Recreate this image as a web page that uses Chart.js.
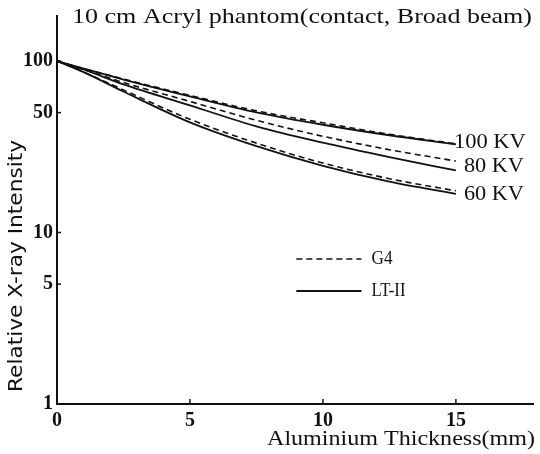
<!DOCTYPE html>
<html>
<head>
<meta charset="utf-8">
<script src="https://cdn.jsdelivr.net/npm/chart.js@4"></script>
<style>
    html, body { margin: 0; padding: 0; background: #fff; }
    #wrap { width: 540px; height: 454px; }
</style>
</head>
<body>
<div id="wrap"><canvas id="chart" width="540" height="454"></canvas></div>
<script>
// aluminium thickness (mm) where the curves were read
const thickness = [0, 1, 2.5, 5, 7.5, 10, 12.5, 15];

// relative X-ray intensity (%)
const g4_100kv = [100, 90.4, 78.5, 63.0, 51.2, 43.6, 37.4, 32.9];
const lt2_100kv = [100, 90.4, 78.0, 62.2, 50.2, 42.5, 36.9, 32.7];
const g4_80kv = [100, 89.2, 74.9, 58.1, 45.1, 36.4, 30.4, 26.1];
const lt2_80kv = [100, 89.2, 73.0, 55.1, 41.6, 33.4, 27.5, 23.0];
const g4_60kv = [100, 86.2, 67.8, 45.7, 33.2, 25.4, 20.6, 17.5];
const lt2_60kv = [100, 86.2, 66.4, 43.9, 31.9, 24.5, 19.8, 16.8];

const xTicks = [0, 5, 10, 15];
const yTicks = [1, 5, 10, 50, 100];

const curveLabels = ["100 KV", "80 KV", "60 KV"];
const legendLabels = ["G4", "LT-II"];

const serif = "'Liberation Serif', 'DejaVu Serif', serif";
const ink = "#111";

function toPoints(values) {
    return thickness.map((t, i) => ({ x: t, y: values[i] }));
}

function series(values, dashed) {
    return {
        data: toPoints(values),
        borderColor: ink,
        borderWidth: dashed ? 1.6 : 1.8,
        borderDash: dashed ? [6, 4] : [],
        pointRadius: 0,
        cubicInterpolationMode: "monotone",
        fill: false
    };
}

// draw text stretched to a given width (old typeset figures use wide spacing)
function fitText(ctx, text, x, y, font, width, align) {
    ctx.save();
    ctx.font = font;
    ctx.fillStyle = ink;
    ctx.textBaseline = "middle";
    let w = ctx.measureText(text).width;
    let sx = width ? width / w : 1;
    ctx.translate(x, y);
    ctx.scale(sx, 1);
    ctx.textAlign = align || "left";
    ctx.fillText(text, 0, 0);
    ctx.restore();
}

const decorations = {
    id: "decorations",
    afterDraw(chart) {
        let ctx = chart.ctx;
        let xs = chart.scales.x;
        let ys = chart.scales.y;
        let area = chart.chartArea;

        // small inward tick marks
        ctx.save();
        ctx.strokeStyle = ink;
        ctx.lineWidth = 1.5;
        yTicks.slice(1).forEach(v => {
            let py = ys.getPixelForValue(v);
            ctx.beginPath();
            ctx.moveTo(area.left, py);
            ctx.lineTo(area.left + 4, py);
            ctx.stroke();
        });
        xTicks.slice(1).forEach(v => {
            let px = xs.getPixelForValue(v);
            ctx.beginPath();
            ctx.moveTo(px, area.bottom);
            ctx.lineTo(px, area.bottom - 5);
            ctx.stroke();
        });
        ctx.restore();

        // titles
        fitText(ctx, "10 cm Acryl phantom(contact, Broad beam)", 72, 17, "21px " + serif, 460, "left");
        fitText(ctx, "Aluminium Thickness(mm)", area.right + 2, 440, "20px " + serif, 268, "right");

        ctx.save();
        ctx.translate(17, 266);
        ctx.rotate(-Math.PI / 2);
        fitText(ctx, "Relative X-ray Intensity", 0, 0, "19px 'DejaVu Sans', sans-serif", 252, "center");
        ctx.restore();

        // curve end labels
        let last = thickness.length - 1;
        let ends = [
            [g4_100kv[last], lt2_100kv[last]],
            [g4_80kv[last], lt2_80kv[last]],
            [g4_60kv[last], lt2_60kv[last]]
        ];
        let xEnd = xs.getPixelForValue(thickness[last]);
        let offsets = [[-2, -2, 72], [8, 1, 60], [8, 2, 60]];
        curveLabels.forEach((label, i) => {
            let py = (ys.getPixelForValue(ends[i][0]) + ys.getPixelForValue(ends[i][1])) / 2;
            fitText(ctx, label, xEnd + offsets[i][0], py + offsets[i][1], "21px " + serif, offsets[i][2], "left");
        });

        // legend
        let lx = xs.getPixelForValue(9.0);
        let lx2 = xs.getPixelForValue(11.45);
        let legendY = [259, 291];
        ctx.save();
        ctx.strokeStyle = ink;
        legendY.forEach((py, i) => {
            ctx.setLineDash(i === 0 ? [6, 4] : []);
            ctx.lineWidth = i === 0 ? 1.6 : 1.8;
            ctx.beginPath();
            ctx.moveTo(lx, py);
            ctx.lineTo(lx2, py);
            ctx.stroke();
        });
        ctx.restore();
        fitText(ctx, legendLabels[0], lx2 + 10, legendY[0], "19px " + serif, 21, "left");
        fitText(ctx, legendLabels[1], lx2 + 10, legendY[1], "19px " + serif, 34, "left");
    }
};

let tickFont = { family: serif, size: 20, weight: "bold" };

let chart = new Chart(document.getElementById("chart").getContext("2d"), {
    type: "line",
    data: {
        datasets: [
            series(g4_100kv, true),
            series(lt2_100kv, false),
            series(g4_80kv, true),
            series(lt2_80kv, false),
            series(g4_60kv, true),
            series(lt2_60kv, false)
        ]
    },
    options: {
        responsive: false,
        animation: false,
        layout: { padding: { left: 0, right: 7, top: 14, bottom: 0 } },
        plugins: {
            legend: { display: false },
            tooltip: { enabled: false }
        },
        scales: {
            x: {
                type: "linear",
                min: 0,
                max: 17.9,
                grid: { display: false, drawTicks: false },
                border: { display: true, color: ink, width: 2 },
                ticks: { color: ink, font: tickFont, padding: 5, maxRotation: 0 },
                afterBuildTicks: s => { s.ticks = xTicks.map(v => ({ value: v })); },
                afterFit: s => { s.height = 50; }
            },
            y: {
                type: "logarithmic",
                min: 1,
                max: 183,
                grid: { display: false, drawTicks: false },
                border: { display: true, color: ink, width: 2 },
                ticks: { color: ink, font: tickFont, padding: 4, callback: v => String(v) },
                afterBuildTicks: s => { s.ticks = yTicks.map(v => ({ value: v })); },
                afterFit: s => { s.width = 57; }
            }
        }
    },
    plugins: [decorations]
});
</script>
</body>
</html>
